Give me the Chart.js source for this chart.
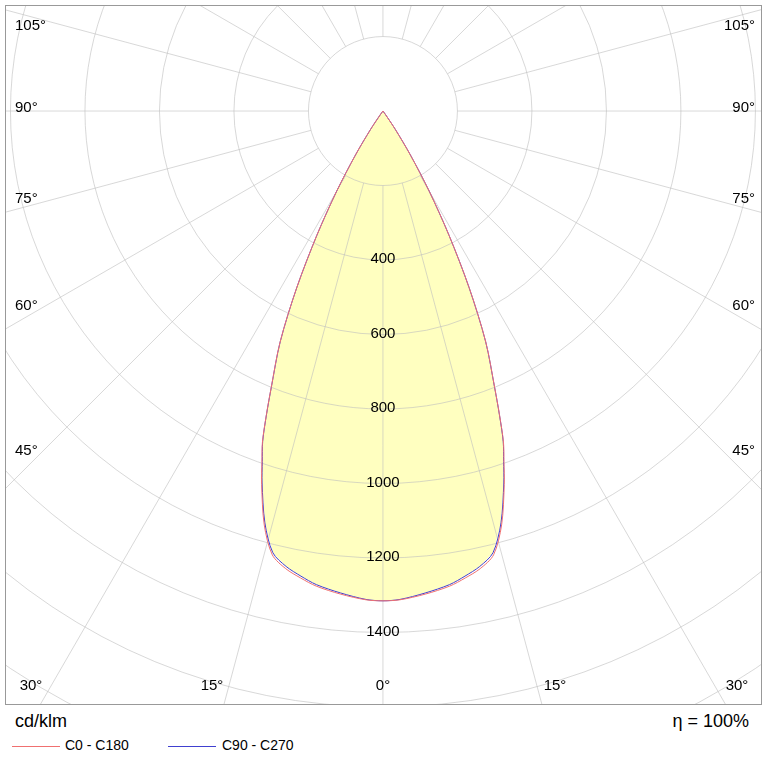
<!DOCTYPE html>
<html><head><meta charset="utf-8">
<script src="https://cdn.jsdelivr.net/npm/chart.js@4"></script>
<style>
body{margin:0;width:767px;height:767px;background:#fff;font-family:Arial,"Liberation Sans",sans-serif;position:relative;overflow:hidden}
#wrap{position:absolute;left:5px;top:5px;width:757px;height:700px;border:1px solid #999;box-sizing:border-box}
.t{position:absolute;color:#000}
</style></head><body>
<div id="wrap"><canvas id="c" width="755" height="698"></canvas></div>
<div class="t" style="left:15px;top:711px;font-size:18px">cd/klm</div>
<div class="t" style="right:18px;top:711px;font-size:18px">η = 100%</div>
<div style="position:absolute;left:12px;top:746px;width:48px;border-top:1px solid #f07070"></div>
<div class="t" style="left:65px;top:737px;font-size:14px">C0 - C180</div>
<div style="position:absolute;left:168px;top:746px;width:48px;border-top:1px solid #4040d0"></div>
<div class="t" style="left:222px;top:737px;font-size:14px">C90 - C270</div>
<script>
const angles = [0,2,5,8,10,12,14,16,18,19,20,21,22,24,26,28,30,32,34,36,38,40];
const c0 = [1315,1313,1302,1288,1273,1256,1228,1156,1054,998,946,873,801,679,529,379,249,140,60,12,0,0];
const c90 = [1315,1312,1299,1284,1268,1250,1222,1150,1050,995,944,872,800,678,528,378,248,139,59,11,0,0];
const rings = [200,400,600,800,1000,1200,1400,1600,1800,2000,2200,2400,2600];
const ringLabels = ['400','600','800','1000','1200','1400'];
const toXY = (vals)=>{
  const pts=[];
  for(let i=angles.length-1;i>=0;i--){const a=-angles[i]*Math.PI/180;pts.push({x:vals[i]*Math.sin(a),y:vals[i]*Math.cos(a)});}
  for(let i=1;i<angles.length;i++){const a=angles[i]*Math.PI/180;pts.push({x:vals[i]*Math.sin(a),y:vals[i]*Math.cos(a)});}
  return pts;
};
const grid={id:'grid',
 beforeDatasetsDraw(ch){
  const ctx=ch.ctx,xs=ch.scales.x,ys=ch.scales.y;
  const cx=xs.getPixelForValue(0),cy=ys.getPixelForValue(0);
  const k=xs.getPixelForValue(100)-cx;const r=v=>v*k/100;
  ctx.save();
  const pts=ch.getDatasetMeta(1).data;
  ctx.beginPath();pts.forEach((p,i)=>i?ctx.lineTo(p.x,p.y):ctx.moveTo(p.x,p.y));ctx.closePath();
  ctx.fillStyle='#ffffc0';ctx.fill();
  ctx.strokeStyle='rgba(190,190,190,0.6)';ctx.lineWidth=1;
  for(let a=0;a<360;a+=15){const t=a*Math.PI/180;
    ctx.beginPath();ctx.moveTo(cx+r(200)*Math.sin(t),cy+r(200)*Math.cos(t));
    ctx.lineTo(cx+r(4000)*Math.sin(t),cy+r(4000)*Math.cos(t));ctx.stroke();}
  rings.forEach(v=>{ctx.beginPath();ctx.arc(cx,cy,r(v),0,2*Math.PI);ctx.stroke();});
  ctx.restore();
 },
 afterDatasetsDraw(ch){
  const ctx=ch.ctx,xs=ch.scales.x,ys=ch.scales.y;
  const cx=xs.getPixelForValue(0);
  ctx.save();ctx.fillStyle='#000';ctx.font='15px Arial, "Liberation Sans"';ctx.textAlign='center';ctx.textBaseline='middle';
  ringLabels.forEach(l=>ctx.fillText(l,cx,ys.getPixelForValue(+l)-1));
  const side=[['105°',20],['90°',102],['75°',193],['60°',300],['45°',445]];
  ctx.textAlign='left';side.forEach(s=>ctx.fillText(s[0],9,s[1]));
  ctx.textAlign='right';side.forEach(s=>ctx.fillText(s[0],749,s[1]));
  ctx.textAlign='center';
  [['30°',25],['15°',206],['0°',377],['15°',549],['30°',731]].forEach(s=>ctx.fillText(s[0],s[1],680));
  ctx.restore();
 }};
new Chart(document.getElementById('c'),{type:'scatter',
 data:{datasets:[
  {data:toXY(c0),showLine:true,borderColor:'#f07070',borderWidth:1,pointRadius:0,fill:false,tension:0.3},
  {data:toXY(c90),showLine:true,borderColor:'#4040d0',borderWidth:1,pointRadius:0,fill:false,tension:0.3}
 ]},
 options:{responsive:false,animation:false,layout:{padding:0},
  plugins:{legend:{display:false},tooltip:{enabled:false}},
  scales:{x:{type:'linear',display:false,min:-1012,max:1015},
          y:{type:'linear',display:false,reverse:true,min:-282,max:1592}}},
 plugins:[grid]});
</script></body></html>
